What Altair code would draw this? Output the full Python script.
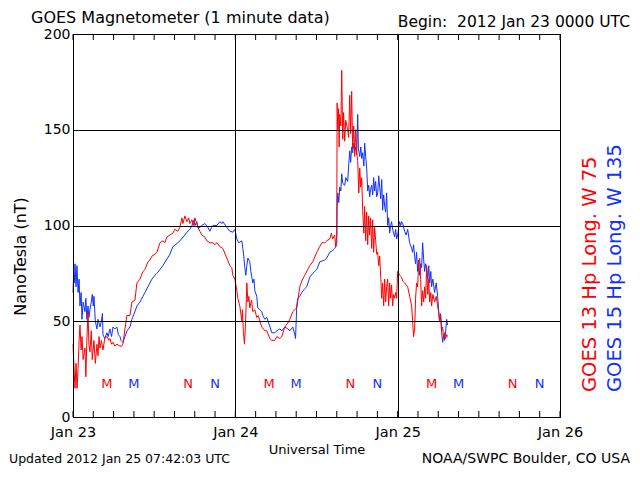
import altair as alt
import pandas as pd

# ---------------- data (hours since 2012 Jan 23 00 UTC, nT) ----------------
red_hours = [0.0, 0.1, 0.2, 0.3, 0.45, 0.6, 0.75, 0.9, 1.03, 1.2, 1.33, 1.5, 1.77, 1.9, 2.05, 2.22, 2.35, 2.51,
             2.7, 2.85, 3.1, 3.3, 3.54, 3.7, 3.85, 3.99, 4.2, 4.43, 4.7, 5.02, 5.3, 5.46, 5.7, 5.91, 6.2, 6.5,
             6.94, 7.2, 7.38, 7.68, 7.98, 8.42, 8.71, 9.16, 9.45, 9.9, 10.34, 10.63, 11.08, 11.37, 11.67, 12.11,
             12.41, 12.85, 13.29, 13.59, 13.88, 14.33, 14.77, 15.06, 15.51, 15.8, 16.1, 16.25, 16.54, 16.84,
             17.1, 17.28, 17.58, 17.8, 18.02, 18.31, 18.46, 18.76, 19.05, 19.49, 19.79, 20.23, 20.68, 20.97,
             21.27, 21.71, 22.15, 22.74, 23.19, 23.48, 23.63, 23.93, 24.22, 24.37, 24.66, 24.96, 25.05, 25.2,
             25.35, 25.5, 25.7, 25.85, 26.0, 26.14, 26.4, 26.58, 26.88, 27.17, 27.4, 27.62, 27.91, 28.36, 28.65,
             29.09, 29.39, 29.83, 30.13, 30.57, 30.87, 31.31, 31.75, 32.05, 32.49, 33.08, 33.53, 33.82, 34.26,
             34.71, 35.0, 35.45, 36.04, 36.48, 36.77, 37.22, 37.51, 37.96, 38.2, 38.4, 38.69, 38.84, 38.99,
             39.05, 39.14, 39.25, 39.35, 39.43, 39.6, 39.73, 39.88, 40.0, 40.17, 40.32, 40.61, 40.75, 40.91,
             41.05, 41.2, 41.35, 41.5, 41.65, 41.8, 41.94, 42.09, 42.25, 42.39, 42.55, 42.68, 42.83, 43.0,
             43.12, 43.27, 43.42, 43.57, 43.72, 43.86, 44.0, 44.16, 44.31, 44.45, 44.6, 44.75, 44.9, 45.05,
             45.2, 45.34, 45.5, 45.64, 45.78, 45.93, 46.08, 46.22, 46.37, 46.52, 46.67, 46.82, 46.96, 47.1,
             47.26, 47.4, 47.56, 47.7, 47.85, 48.0, 48.3, 48.59, 48.74, 49.03, 49.48, 49.77, 50.07, 50.21,
             50.35, 50.51, 50.65, 50.8, 50.95, 51.1, 51.25, 51.4, 51.54, 51.69, 51.85, 51.99, 52.14, 52.28,
             52.45, 52.6, 52.73, 52.9, 53.02, 53.2, 53.46, 53.7, 53.91, 54.05, 54.2, 54.35, 54.5, 54.65, 54.8,
             54.94, 55.1, 55.24, 55.38]
red_values = [38, 30, 22, 15, 28, 15, 25, 40, 48, 35, 42, 30, 36, 21, 40, 55, 38, 34,
              45, 30, 40, 28, 38, 32, 42, 36, 40, 35, 41, 42, 40, 41, 38, 39, 37, 38,
              37, 37, 38, 46, 53, 53, 60, 61, 70, 72, 76, 77, 81, 82, 84, 85,
              86, 91, 92, 91, 94, 95, 96, 98, 97, 99, 104, 101, 105, 102,
              104, 101, 103, 100, 104, 101, 99, 97, 95, 94, 92, 91, 91, 90,
              91, 89, 88, 83, 79, 78, 74, 72, 66, 62, 58, 50, 56, 44,
              38, 48, 70, 60, 63, 57, 61, 55, 56, 52, 53, 50, 47, 45, 45,
              41, 40, 40, 42, 41, 42, 47, 49, 51, 55, 57, 68, 71, 74,
              77, 79, 81, 86, 89, 91, 91, 92, 93, 96, 93, 95, 89, 95,
              164, 150, 161, 141, 158, 152, 181, 145, 159, 144, 155, 150, 146, 168,
              148, 170, 140, 152, 136, 150, 138, 134, 117, 130, 120, 125, 108, 96,
              110, 92, 107, 90, 105, 95, 104, 88, 103, 86, 99, 92, 85, 86,
              79, 84, 73, 62, 70, 58, 72, 60, 68, 72, 58, 70, 62, 69,
              58, 64, 62, 65, 62, 76, 74, 73, 71, 70, 68, 63, 58, 50,
              42, 46, 62, 70, 68, 79, 83, 72, 58, 66, 60, 68, 62, 79,
              64, 72, 60, 65, 58, 64, 60, 63, 58, 55, 50, 53, 45, 47, 41,
              44, 41, 43, 42]

blue_hours = [0.0, 0.1, 0.2, 0.3, 0.45, 0.59, 0.75, 0.9, 1.03, 1.2, 1.33, 1.5, 1.77, 1.9, 2.05, 2.22, 2.35, 2.51,
              2.7, 2.85, 3.0, 3.1, 3.3, 3.54, 3.7, 3.99, 4.2, 4.35, 4.43, 4.7, 5.02, 5.2, 5.46, 5.7, 5.91, 6.2,
              6.5, 6.7, 6.94, 7.1, 7.38, 7.68, 7.98, 8.42, 8.71, 9.16, 9.45, 9.9, 10.34, 10.63, 11.08, 11.37,
              11.67, 12.11, 12.41, 12.85, 13.29, 13.88, 14.33, 14.77, 15.51, 15.8, 16.54, 16.84, 17.28, 17.58,
              17.9, 18.02, 18.31, 18.46, 18.76, 19.05, 19.49, 19.79, 20.23, 20.5, 20.68, 20.97, 21.27, 21.71,
              22.0, 22.15, 22.74, 23.19, 23.63, 23.93, 24.22, 24.5, 24.96, 25.11, 25.25, 25.4, 25.55, 25.7,
              25.85, 26.0, 26.14, 26.3, 26.58, 26.75, 26.88, 27.17, 27.32, 27.62, 27.91, 28.06, 28.36, 28.65,
              29.09, 29.39, 29.83, 30.13, 30.57, 30.87, 31.31, 31.75, 32.05, 32.49, 32.79, 32.9, 33.08, 33.23,
              33.53, 33.82, 34.26, 34.56, 35.0, 35.45, 36.04, 36.48, 37.22, 37.51, 37.96, 38.4, 38.69, 38.99,
              39.05, 39.14, 39.3, 39.43, 39.6, 39.73, 39.88, 40.17, 40.32, 40.61, 40.75, 40.91, 41.05, 41.2,
              41.35, 41.5, 41.65, 41.8, 41.94, 42.09, 42.2, 42.39, 42.55, 42.68, 42.83, 43.0, 43.12, 43.27,
              43.42, 43.57, 43.72, 43.86, 44.0, 44.16, 44.31, 44.45, 44.6, 44.75, 44.9, 45.05, 45.2, 45.34,
              45.5, 45.64, 45.78, 45.93, 46.08, 46.22, 46.37, 46.52, 46.67, 46.82, 46.96, 47.1, 47.26, 47.4,
              47.56, 47.7, 47.85, 48.0, 48.15, 48.29, 48.45, 48.59, 48.74, 49.03, 49.25, 49.48, 49.77, 50.07,
              50.21, 50.35, 50.51, 50.65, 50.8, 50.95, 51.1, 51.25, 51.4, 51.54, 51.69, 51.85, 51.99, 52.14,
              52.28, 52.45, 52.6, 52.73, 52.9, 53.02, 53.2, 53.46, 53.7, 53.91, 54.05, 54.2, 54.35, 54.5,
              54.65, 54.8, 54.94, 55.1, 55.24, 55.38]
blue_values = [65, 75, 70, 80, 68, 79, 65, 72, 58, 65, 51, 60, 55, 62, 51, 58, 52, 56,
               60, 64, 58, 63, 50, 46, 51, 47, 50, 54, 43, 41, 44, 42, 46, 42, 47, 46,
               47, 43, 42, 40, 39, 42, 45, 47, 51, 55, 58, 60, 63, 65, 68, 70,
               72, 74, 75, 77, 79, 82.5, 85, 89, 91, 92, 95, 96.5, 98, 100,
               103, 100, 102, 99, 99, 100, 101, 100, 97, 99, 100, 100, 100, 102,
               101, 102, 99, 97, 96.5, 98, 93, 91, 92, 88, 84, 78, 74, 79,
               83, 82, 81, 76, 70, 72, 66, 63, 57, 56, 55, 53, 51, 52,
               47.5, 44, 44, 45, 46, 45, 47, 46, 45, 47, 43, 41, 58, 62,
               63, 65, 67, 68, 73, 75, 77, 81, 82, 83, 86, 87, 88, 90,
               110, 117, 112, 120, 118, 127, 122, 121, 125, 123, 131, 139, 133, 141,
               138, 143, 139, 141, 137, 158, 140, 136, 141, 135, 138, 131, 143, 136,
               130, 118, 121, 115, 119, 121, 116, 125, 118, 123, 115, 117, 126, 120,
               114, 124, 108, 116, 110, 107, 117, 100, 104, 96, 100, 102, 98, 96,
               94, 98, 93, 95, 99, 102, 100, 102, 101, 97, 95, 98, 91, 88,
               86, 90, 84, 80, 86, 76, 82, 74, 80, 78, 91, 82, 76, 80,
               78, 72, 79, 70, 76, 68, 72, 65, 70, 63, 56, 50, 54, 44,
               39, 43, 40, 45, 51, 48]

# local midnight (M) / noon (N) markers
marker_hours = [5, 9, 17, 21, 29, 33, 41, 45, 53, 57, 65, 69]
marker_text = ["M", "M", "N", "N", "M", "M", "N", "N", "M", "M", "N", "N"]
marker_sat = ["GOES 13", "GOES 15"] * 6
marker_level = [17] * 12

tick_hours = list(range(0, 73, 3))
day_hours = [0, 24, 48, 72]
day_labels = ["Jan 23", "Jan 24", "Jan 25", "Jan 26"]
y_ticks = [0, 50, 100, 150, 200]

sats = ["GOES 13", "GOES 15"]
sat_colors = ["#ff0000", "#1030ff"]

W, H = 487, 383
TOP = 26
FONT = "DejaVu Sans"

red_df = pd.DataFrame({"hours": red_hours, "nT": red_values, "sat": "GOES 13"})
blue_df = pd.DataFrame({"hours": blue_hours, "nT": blue_values, "sat": "GOES 15"})
marker_df = pd.DataFrame({"hours": marker_hours, "nT": marker_level, "txt": marker_text, "sat": marker_sat})
tick_df = pd.DataFrame({"hours": tick_hours})

label_expr = "[" + ",".join("'" + s + "'" for s in day_labels) + "][round(datum.value/24)]"

xscale = alt.Scale(domain=[0, 72], nice=False, zero=False)
yscale = alt.Scale(domain=[0, 200], nice=False, zero=True)
color = alt.Color("sat:N", scale=alt.Scale(domain=sats, range=sat_colors), legend=None)

x_axis = alt.Axis(values=day_hours, labelExpr=label_expr, grid=True, gridColor="black", gridOpacity=1,
                  gridWidth=1, ticks=False, tickSize=0, domain=False, labelPadding=8, labelFlush=False,
                  labelFont=FONT, labelFontSize=14.5, labelColor="black", title="Universal Time",
                  titleFont=FONT, titleFontSize=13, titleFontWeight="normal", titleColor="black",
                  titleBaseline="middle", titleY=32, zindex=1)
y_axis = alt.Axis(values=y_ticks, grid=True, gridColor="black", gridOpacity=1, gridWidth=1, ticks=False,
                  tickSize=0, domain=False, labelPadding=3, labelFont=FONT, labelFontSize=14,
                  labelColor="black", title="NanoTesla (nT)", titleFont=FONT, titleFontSize=16,
                  titleFontWeight="normal", titleColor="black", titleAngle=270, titleX=-53, titleY=222,
                  titleAlign="center", titleBaseline="middle", zindex=1)

X = alt.X("hours:Q", scale=xscale, axis=x_axis)
Y = alt.Y("nT:Q", scale=yscale, axis=y_axis)

blue_line = alt.Chart(blue_df).mark_line(strokeWidth=1).encode(x=X, y=Y, color=color)
red_line = alt.Chart(red_df).mark_line(strokeWidth=1).encode(x=X, y=Y, color=color)

markers = alt.Chart(marker_df).mark_text(font=FONT, fontSize=13, baseline="middle", align="center").encode(
    x=X, y=Y, text="txt:N", color=color)

ticks_bottom = alt.Chart(tick_df).mark_rule(color="black", strokeWidth=1).encode(
    x=X, y=alt.value(H), y2=alt.value(H - 6))
ticks_top = alt.Chart(tick_df).mark_rule(color="black", strokeWidth=1).encode(
    x=X, y=alt.value(0), y2=alt.value(6))


def label(txt, x, y, align="left", size=15, col="black", angle=0):
    kw = dict(font=FONT, fontSize=size, align=align, baseline="middle", color=col)
    if angle:
        kw["angle"] = angle
    return alt.Chart(pd.DataFrame({"t": [txt]})).mark_text(**kw).encode(
        text="t:N", x=alt.value(x), y=alt.value(y))


# page coordinates -> plot-relative coordinates: x - 73, y - (8 + TOP)
title = label("GOES Magnetometer (1 minute data)", -42, 18 - 8 - TOP, size=16)
begin = label("Begin:\u00a0\u00a02012 Jan 23 0000 UTC", 557, 22 - 8 - TOP, align="right", size=15.5)
updated = label("Updated 2012 Jan 25 07:42:03 UTC", -64, 425, size=12.5)
noaa = label("NOAA/SWPC Boulder, CO USA", 557, 425, align="right", size=14)
leg13 = label("GOES 13 Hp Long. W 75", 517, 392 - 8 - TOP, size=19.5, col=sat_colors[0], angle=270)
leg15 = label("GOES 15 Hp Long. W 135", 542, 392 - 8 - TOP, size=19.5, col=sat_colors[1], angle=270)

chart = alt.layer(
    blue_line, red_line, markers, ticks_bottom, ticks_top,
    title, begin, updated, noaa, leg13, leg15,
).properties(
    width=W, height=H,
    autosize=alt.AutoSizeParams(type="none"),
    padding={"left": 65, "top": TOP, "right": 72, "bottom": 49},
    background="white",
).configure_view(stroke="black", strokeWidth=1)

chart.save("out.html", embed_options={"renderer": "svg", "actions": False})
